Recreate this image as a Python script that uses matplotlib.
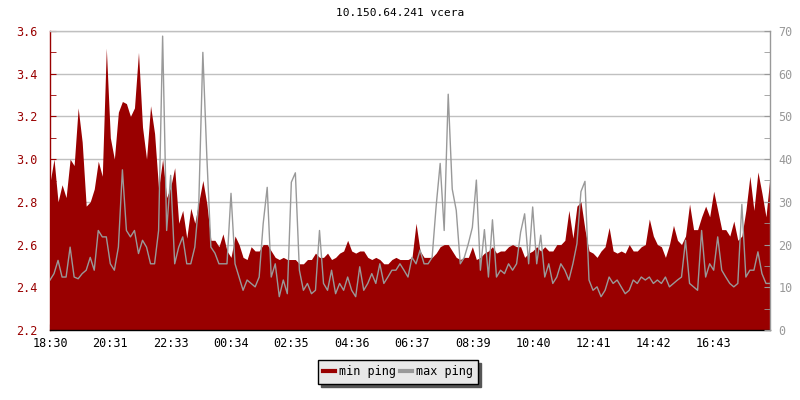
import numpy as np
import matplotlib
matplotlib.use("Agg")
import matplotlib.pyplot as plt
from matplotlib.lines import Line2D
from matplotlib.ticker import MultipleLocator

# ---------------------------------------------------------------
# DATA  (one sample every ~8 minutes)
# ---------------------------------------------------------------
TITLE = "10.150.64.241 vcera"
TICK_LABELS = ["18:30", "20:31", "22:33", "00:34", "02:35", "04:36",
               "06:37", "08:39", "10:40", "12:41", "14:42", "16:43"]
TICK_MINUTES = [0, 121, 243, 364, 485, 606, 727, 849, 970, 1091, 1212, 1333]
SPAN_MINUTES = 1446

# min ping (ms), left axis
min_ping = [
    2.89, 3.00, 2.80, 2.88, 2.82, 3.00, 2.97, 3.24, 3.08, 2.78,
    2.80, 2.86, 2.99, 2.92, 3.52, 3.10, 3.00, 3.22, 3.27, 3.26,
    3.20, 3.24, 3.50, 3.15, 3.00, 3.25, 3.12, 2.86, 3.00, 2.82,
    2.87, 2.96, 2.70, 2.76, 2.63, 2.77, 2.70, 2.80, 2.90, 2.79,
    2.62, 2.62, 2.59, 2.65, 2.57, 2.54, 2.64, 2.60, 2.54, 2.53,
    2.59, 2.57, 2.57, 2.60, 2.60, 2.57, 2.54, 2.53, 2.54, 2.53,
    2.53, 2.53, 2.51, 2.51, 2.53, 2.53, 2.56, 2.54, 2.54, 2.56,
    2.53, 2.54, 2.56, 2.57, 2.62, 2.57, 2.56, 2.57, 2.57, 2.54,
    2.53, 2.54, 2.53, 2.51, 2.51, 2.53, 2.54, 2.53, 2.53, 2.53,
    2.54, 2.70, 2.57, 2.54, 2.54, 2.54, 2.56, 2.59, 2.60, 2.60,
    2.57, 2.54, 2.53, 2.54, 2.54, 2.59, 2.53, 2.54, 2.56, 2.57,
    2.59, 2.56, 2.57, 2.57, 2.59, 2.60, 2.59, 2.59, 2.54, 2.56,
    2.57, 2.59, 2.57, 2.59, 2.57, 2.57, 2.60, 2.60, 2.62, 2.76,
    2.63, 2.78, 2.80, 2.67, 2.57, 2.56, 2.54, 2.57, 2.59, 2.68,
    2.57, 2.56, 2.57, 2.56, 2.60, 2.57, 2.57, 2.59, 2.60, 2.72,
    2.64, 2.60, 2.59, 2.54, 2.60, 2.69, 2.62, 2.60, 2.64, 2.79,
    2.67, 2.67, 2.73, 2.78, 2.73, 2.85, 2.76, 2.67, 2.67, 2.64,
    2.71, 2.62, 2.64, 2.76, 2.92, 2.76, 2.94, 2.84, 2.73, 2.92,
]

# max ping (ms), right axis
max_ping = [
    11.7, 13.2, 16.3, 12.4, 12.4, 19.4, 12.4, 12.0, 13.2, 14.0,
    17.0, 14.0, 23.3, 21.8, 21.8, 15.5, 14.0, 19.4, 37.5, 23.3,
    21.8, 23.3, 17.9, 21.0, 19.4, 15.5, 15.5, 23.3, 68.8, 23.3,
    36.2, 15.5, 19.4, 21.8, 15.5, 15.5, 19.4, 30.0, 65.0, 40.4,
    19.4, 18.0, 15.5, 15.5, 15.5, 32.0, 15.5, 12.4, 9.3, 11.7,
    10.9, 10.1, 12.4, 24.9, 33.4, 12.4, 15.5, 7.8, 11.7, 8.5,
    34.6, 36.8, 14.0, 9.3, 10.9, 8.5, 9.3, 23.3, 10.9, 9.3,
    14.0, 8.5, 10.9, 9.3, 12.4, 9.3, 7.8, 14.8, 9.3, 10.9,
    13.2, 10.9, 15.5, 10.9, 12.4, 14.0, 14.0, 15.5, 14.0, 12.4,
    17.0, 15.5, 18.7, 15.5, 15.5, 17.0, 29.0, 39.0, 23.3, 55.2,
    33.0, 28.0, 15.5, 17.0, 20.2, 24.0, 35.1, 14.0, 23.5, 12.4,
    25.8, 12.4, 14.0, 13.2, 15.5, 14.0, 15.5, 22.9, 27.2, 15.5,
    28.8, 15.5, 22.2, 12.4, 15.5, 10.9, 12.4, 15.5, 14.0, 11.7,
    15.5, 20.2, 32.4, 34.8, 11.7, 9.3, 10.1, 7.8, 9.3, 12.4,
    10.9, 11.7, 10.1, 8.5, 9.3, 11.7, 10.9, 12.4, 11.7, 12.4,
    10.9, 11.7, 10.9, 12.4, 10.1, 10.9, 11.7, 12.4, 21.0, 10.9,
    10.1, 9.3, 23.3, 12.4, 15.5, 14.0, 21.8, 14.0, 12.4, 10.9,
    10.1, 10.9, 29.4, 12.4, 14.0, 14.0, 18.3, 13.2, 10.9, 10.9,
]

# ---------------------------------------------------------------
# STYLE
# ---------------------------------------------------------------
RED = "#990000"
GRAY = "#999999"
GRID = "#c0c0c0"
plt.rcParams["font.family"] = ["DejaVu Sans Mono"]

t = np.linspace(0, SPAN_MINUTES, len(min_ping))

fig = plt.figure(figsize=(8, 4), dpi=100)
ax = fig.add_axes([0.0625, 0.175, 0.9, 0.7475])
ax2 = ax.twinx()

ax.fill_between(t, 2.2, min_ping, color=RED, lw=0, zorder=2)
ax2.plot(t, max_ping, color=GRAY, lw=1.0, zorder=3)

ax.set_xlim(0, SPAN_MINUTES)
ax.set_ylim(2.2, 3.6)
ax2.set_ylim(0, 70)

ax.set_xticks(TICK_MINUTES)
ax.set_xticklabels(TICK_LABELS)
ax.yaxis.set_major_locator(MultipleLocator(0.2))
ax.yaxis.set_minor_locator(MultipleLocator(0.1))
ax.yaxis.set_major_formatter(plt.FuncFormatter(lambda v, p: f"{v:.1f}"))
ax2.yaxis.set_major_locator(MultipleLocator(10))
ax2.yaxis.set_minor_locator(MultipleLocator(5))

ax.grid(axis="y", color=GRID, lw=1, zorder=0)
ax.set_axisbelow(True)

ax.tick_params(axis="y", which="both", direction="in", colors=RED,
               labelcolor=RED, labelsize=8.5, length=4, pad=9)
ax.tick_params(axis="x", direction="in", length=4, labelsize=8.5,
               colors="black", pad=5)
ax2.tick_params(axis="y", which="both", direction="in", colors=GRAY,
                labelcolor=GRAY, labelsize=8.5, length=4, pad=6)

ax.spines["left"].set_color(RED)
ax.spines["bottom"].set_color("black")
ax.spines["top"].set_color(GRID)
ax.spines["right"].set_visible(False)
ax2.spines["left"].set_visible(False)
ax2.spines["bottom"].set_visible(False)
ax2.spines["top"].set_visible(False)
ax2.spines["right"].set_color(GRAY)
for s in ("left", "bottom", "right", "top"):
    ax.spines[s].set_linewidth(1)
    ax2.spines[s].set_linewidth(1)

fig.text(0.5, 0.967, TITLE, ha="center", va="center", fontsize=8)

handles = [Line2D([], [], color=RED, lw=3), Line2D([], [], color=GRAY, lw=3)]
leg = fig.legend(handles, ["min ping", "max ping"], loc="center",
                 bbox_to_anchor=(0.4975, 0.07), ncol=2, fontsize=8.5,
                 frameon=True, fancybox=False, handlelength=1.0,
                 handletextpad=0.3, columnspacing=0.4, borderpad=0.45,
                 shadow={"color": "#555555", "alpha": 1})
leg.get_frame().set_facecolor("#e8e8e8")
leg.get_frame().set_edgecolor("black")
leg.get_frame().set_alpha(1)
leg.get_frame().set_linewidth(1)

fig.savefig("out.png", dpi=100)
